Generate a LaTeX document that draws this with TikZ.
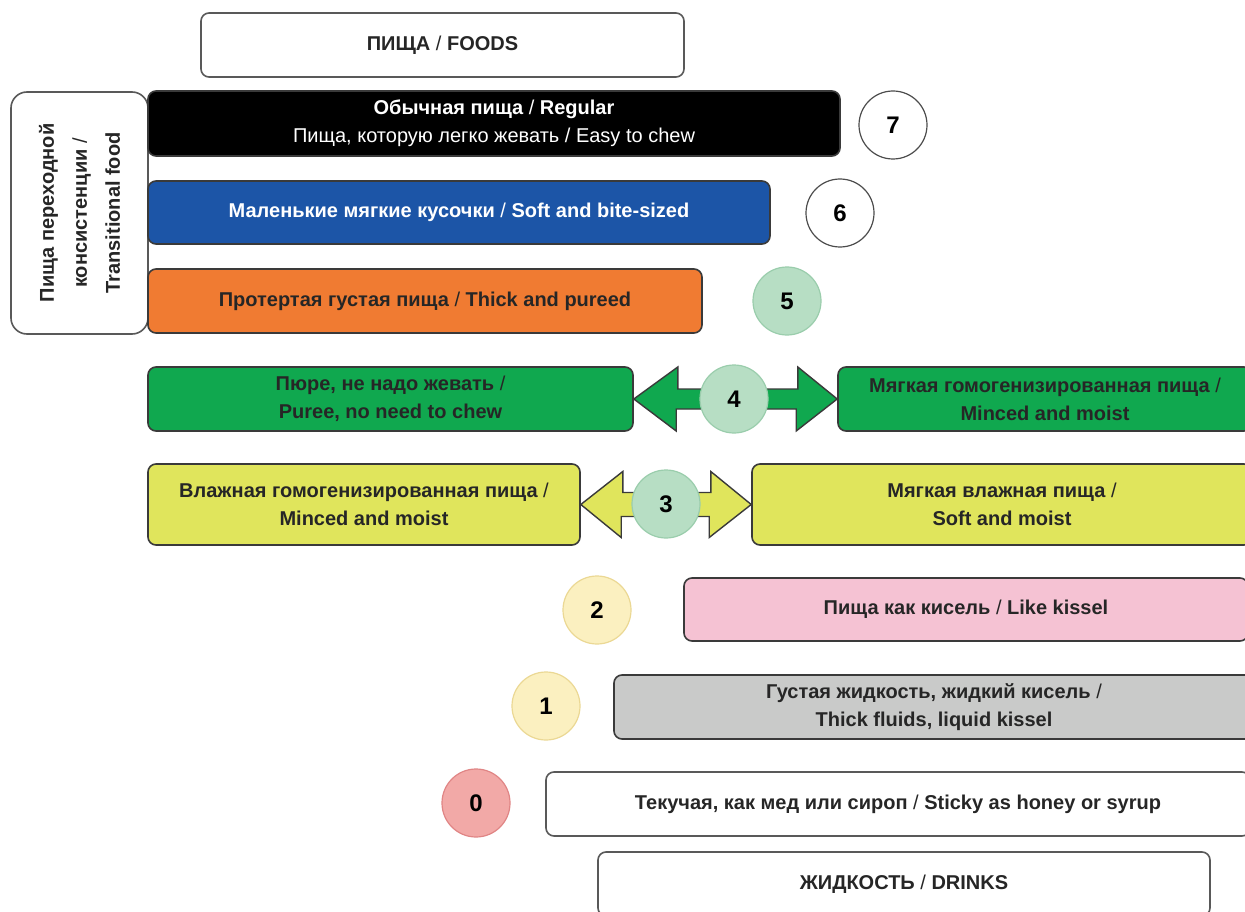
\documentclass[tikz,border=0pt]{standalone}
\usepackage{fontspec}
\setmainfont{Liberation Sans}
\definecolor{cBlue}{HTML}{1C55A7}
\definecolor{cOrange}{HTML}{F07B32}
\definecolor{cGreen}{HTML}{10A84F}
\definecolor{cYellow}{HTML}{E0E55C}
\definecolor{cPink}{HTML}{F5C2D3}
\definecolor{cGray}{HTML}{C9CAC9}
\definecolor{cLG}{HTML}{B7DEC4}
\definecolor{cLGb}{HTML}{9ACDAC}
\definecolor{cLY}{HTML}{FBF0C0}
\definecolor{cLYb}{HTML}{EBD894}
\definecolor{cLR}{HTML}{F2A9A7}
\definecolor{cLRb}{HTML}{E08585}
\definecolor{cEdge}{HTML}{3A3A3A}
\newcommand{\slsh}{{\mdseries/}}
\tikzset{
  box/.style={draw=cEdge, line width=1.6pt, rounded corners=8pt, inner sep=0pt, align=center,
    font=\fontsize{20}{28}\selectfont\bfseries},
  wbox/.style={box, draw=black!65, fill=white},
  num/.style={circle, minimum size=68pt, inner sep=0pt, line width=1.2pt, font=\fontsize{24}{24}\selectfont\bfseries},
  dbl/.style={draw=cEdge, line width=1.4pt, line join=miter}
}
\begin{document}
\begin{tikzpicture}[x=1pt,y=-1pt]
\useasboundingbox (0,0) rectangle (1245,912);
\clip (0,0) rectangle (1245,912);
\fill[white] (0,0) rectangle (1245,912);

\node[wbox, text=black!85, minimum width=483pt, minimum height=64pt] (foods) at (442.5,45) {ПИЩА \slsh{} FOODS};

\node[wbox, text=black!85, rounded corners=16pt, rotate=90, minimum width=242pt, minimum height=137pt,
  font=\fontsize{20}{33}\selectfont\bfseries] (trans) at (79.5,213)
  {Пища переходной\\консистенции \slsh\\Transitional food};

\node[box, fill=black, text=white, minimum width=692pt, minimum height=65pt] (l7) at (494,123.5)
  {Обычная пища \slsh{} Regular\\\mdseries Пища, которую легко жевать / Easy to chew};
\node[num, draw=black!70, fill=white] (n7) at (893,125) {7};

\node[box, fill=cBlue, text=white, minimum width=622pt, minimum height=63pt] (l6) at (459,212.5)
  {Маленькие мягкие кусочки \slsh{} Soft and bite-sized};
\node[num, draw=black!70, fill=white] (n6) at (840,213) {6};

\node[box, fill=cOrange, text=black!85, minimum width=554pt, minimum height=64pt] (l5) at (425,301)
  {Протертая густая пища \slsh{} Thick and pureed};
\node[num, draw=cLGb, fill=cLG] (n5) at (787,301) {5};

\node[box, fill=cGreen, text=black!85, minimum width=485pt, minimum height=64pt] (l4a) at (390.5,399)
  {Пюре, не надо жевать \slsh\\Puree, no need to chew};
\node[box, fill=cGreen, text=black!85, minimum width=414pt, minimum height=64pt] (l4b) at (1045,399)
  {Мягкая гомогенизированная пища \slsh\\Minced and moist};
\draw[dbl, fill=cGreen] (l4a.east) -- ++(44,-32) -- ++(0,22) -- ++(120,0) -- ++(0,-22) -- (l4b.west)
  -- ++(-41,32) -- ++(0,-22) -- ++(-120,0) -- ++(0,22) -- cycle;
\node[num, draw=cLGb, fill=cLG] (n4) at (734,399) {4};

\node[box, fill=cYellow, text=black!85, minimum width=432pt, minimum height=81pt] (l3a) at (364,504.5)
  {Влажная гомогенизированная пища \slsh\\Minced and moist};
\node[box, fill=cYellow, text=black!85, minimum width=500pt, minimum height=81pt] (l3b) at (1002,504.5)
  {Мягкая влажная пища \slsh\\Soft and moist};
\draw[dbl, fill=cYellow] (l3a.east) -- ++(42,-33) -- ++(0,21) -- ++(88,0) -- ++(0,-21) -- (l3b.west)
  -- ++(-42,33) -- ++(0,-21) -- ++(-88,0) -- ++(0,21) -- cycle;
\node[num, draw=cLGb, fill=cLG] (n3) at (666,504) {3};

\node[num, draw=cLYb, fill=cLY] (n2) at (597,610) {2};
\node[box, fill=cPink, text=black!85, minimum width=564pt, minimum height=63pt] (l2) at (966,609.5)
  {Пища как кисель \slsh{} Like kissel};

\node[num, draw=cLYb, fill=cLY] (n1) at (546,706) {1};
\node[box, fill=cGray, text=black!85, minimum width=640pt, minimum height=64pt] (l1) at (934,707)
  {Густая жидкость, жидкий кисель \slsh\\Thick fluids, liquid kissel};

\node[num, draw=cLRb, fill=cLR] (n0) at (476,803) {0};
\node[wbox, text=black!85, minimum width=704pt, minimum height=64pt] (l0) at (898,804)
  {Текучая, как мед или сироп \slsh{} Sticky as honey or syrup};

\node[wbox, text=black!85, minimum width=612pt, minimum height=64pt] (drinks) at (904,884)
  {ЖИДКОСТЬ \slsh{} DRINKS};
\end{tikzpicture}
\end{document}
